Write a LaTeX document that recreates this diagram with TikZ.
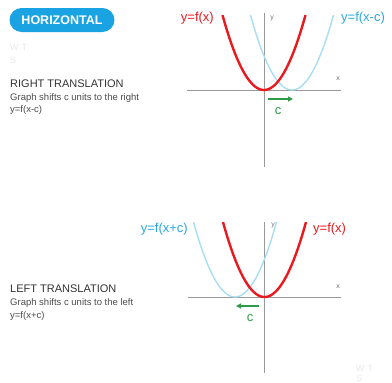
\documentclass[tikz,border=0pt]{standalone}
\usepackage{fontspec}
\setmainfont{Liberation Sans}
\usepackage{xcolor}
\usetikzlibrary{arrows.meta}
\definecolor{hred}{HTML}{E8191F}
\definecolor{hblue}{HTML}{A9DDF3}
\definecolor{hlab}{HTML}{2AA7E1}
\definecolor{hgrn}{HTML}{2E9B48}
\definecolor{hpill}{HTML}{1AA3E2}
\tikzset{
  ax/.style={gray!80,line width=0.9pt},
  fcur/.style={hred,line width=2.4pt},
  gcur/.style={hblue,line width=1.4pt},
  shft/.style={hgrn,line width=1.2pt,-{Triangle[length=5pt,width=5pt]}},
  ttl/.style={anchor=base west,inner sep=0pt,text=black!80,font=\fontsize{11}{12}\selectfont},
  sub/.style={anchor=base west,inner sep=0pt,text=black!70,font=\fontsize{9.5}{10}\selectfont},
  flab/.style={inner sep=0pt,font=\fontsize{13}{14}\selectfont},
  axl/.style={font=\fontsize{7}{7}\selectfont,text=gray!90!black},
  wm/.style={anchor=base west,inner sep=0pt,text=gray!18,font=\fontsize{9}{10}\selectfont}
}
\newcommand{\para}[2]{plot[domain=-41.5:41.5,samples=60] ({#1+\x},{#2-0.0435*\x*\x})}

\begin{document}
\begin{tikzpicture}[x=1pt,y=-1pt]
\useasboundingbox (0,0) rectangle (392,383);
\node[fill=hpill,rounded corners=12pt,minimum width=105pt,minimum height=24pt,text=white,font=\bfseries\fontsize{12.5}{13}\selectfont] (hz) at (62,20) {HORIZONTAL};
\node[wm] (wm1) at (10,50) {W\,\,T}; \node[wm] (wm2) at (10,63) {S};
% right translation
\node[ttl] (rt) at (10,87) {RIGHT TRANSLATION};
\node[sub] (rs) at (10,100) {Graph shifts c units to the right};
\node[sub] (re) at (10,112) {y=f(x-c)};
\coordinate (o1) at (264,90);
\coordinate (x1a) at (187,90); \coordinate (x1b) at (341,90);
\coordinate (y1a) at (264,13); \coordinate (y1b) at (264,167);
\draw[ax] (x1a) -- (x1b); \draw[ax] (y1a) -- (y1b);
\node[axl] (xl1) at (338,79) {x};
\node[axl] (yl1) at (272,18) {y};
\draw[gcur] \para{292}{90};
\draw[fcur] \para{264}{90};
\node[flab,text=hred,anchor=east] (fl1) at (214,18) {y=f(x)};
\node[flab,text=hlab,anchor=west] (gl1) at (341,18) {y=f(x-c)};
\coordinate (c1a) at (268,99); \coordinate (c1b) at (293,99);
\draw[shft] (c1a) -- (c1b);
\node[flab,text=hgrn] (c1) at (278,111) {c};
% left translation
\node[ttl] (lt) at (10,292) {LEFT TRANSLATION};
\node[sub] (ls) at (10,305) {Graph shifts c units to the left};
\node[sub] (le) at (10,318) {y=f(x+c)};
\coordinate (o2) at (264,297);
\coordinate (x2a) at (188,297); \coordinate (x2b) at (341,297);
\coordinate (y2a) at (264,222); \coordinate (y2b) at (264,373);
\draw[ax] (x2a) -- (x2b); \draw[ax] (y2a) -- (y2b);
\node[axl] (xl2) at (338,287) {x};
\node[axl] (yl2) at (273,225) {y};
\draw[gcur] \para{235}{297};
\draw[fcur] \para{264.5}{297};
\node[flab,text=hlab,anchor=east] (gl2) at (188,229) {y=f(x+c)};
\node[flab,text=hred,anchor=west] (fl2) at (313,229) {y=f(x)};
\coordinate (c2a) at (259,306); \coordinate (c2b) at (236,306);
\draw[shft] (c2a) -- (c2b);
\node[flab,text=hgrn] (c2) at (250,318) {c};
\node[wm] (wm3) at (356,371) {W\,\,T}; \node[wm] (wm4) at (356,381) {S};
\end{tikzpicture}
\end{document}
